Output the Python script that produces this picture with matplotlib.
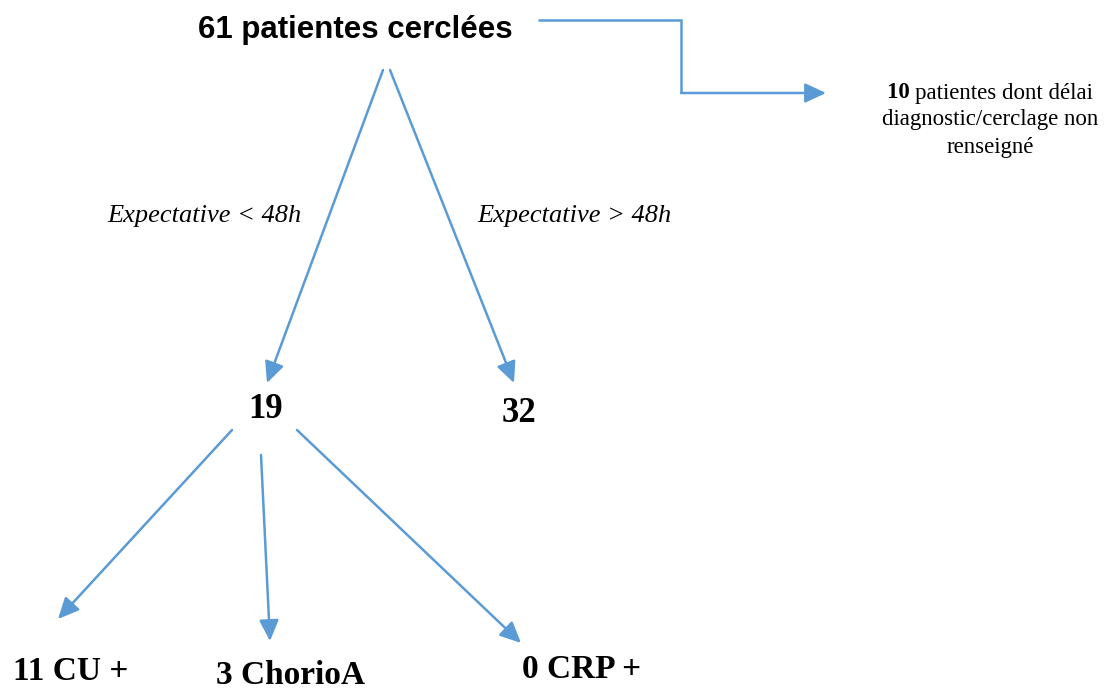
import matplotlib
matplotlib.use("Agg")
import matplotlib.pyplot as plt

# flowchart content
total = 61
total_label = "patientes cerclées"
missing = 10
missing_label = ["patientes dont délai", "diagnostic/cerclage non", "renseigné"]
branch_labels = ["Expectative < 48h", "Expectative > 48h"]
branch_counts = [19, 32]
outcome_counts = [11, 3, 0]
outcome_labels = ["CU +", "ChorioA", "CRP +"]

blue = "#5B9BD5"
W, H = 1114, 689

fig = plt.figure(figsize=(W / 100, H / 100), dpi=100)
ax = fig.add_axes([0, 0, 1, 1])
ax.set_xlim(0, W)
ax.set_ylim(H, 0)
ax.axis("off")


def arrow(p0, p1):
	ax.annotate("", xy=p1, xytext=p0,
		arrowprops=dict(arrowstyle="-|>,head_length=0.75,head_width=0.35", color=blue,
			lw=1.8, mutation_scale=17, shrinkA=0, shrinkB=0))


# top box
ax.text(355, 30, "{0} {1}".format(total, total_label), ha="center", va="center",
	fontsize=22.5, fontweight="bold", family="Liberation Sans")

# elbow to the side note
ax.plot([538, 681, 681], [20, 20, 93], color=blue, lw=1.8, solid_capstyle="butt",
	solid_joinstyle="miter")
arrow((681, 93), (826, 93))
ax.text(990, 120, missing_label[1], ha="center", va="center", fontsize=16.5,
	family="Liberation Serif")
ax.text(990, 147, missing_label[2], ha="center", va="center", fontsize=16.5,
	family="Liberation Serif")
# first line: bold count + regular text, centred together
t1 = ax.text(0, 93, str(missing) + " ", ha="left", va="center", fontsize=16.5,
	fontweight="bold", family="Liberation Serif")
t2 = ax.text(0, 93, missing_label[0], ha="left", va="center", fontsize=16.5,
	family="Liberation Serif")
fig.canvas.draw()
r = fig.canvas.get_renderer()
inv = ax.transData.inverted()
b1 = t1.get_window_extent(r)
b2 = t2.get_window_extent(r)
w1 = inv.transform((b1.x1, 0))[0] - inv.transform((b1.x0, 0))[0]
w2 = inv.transform((b2.x1, 0))[0] - inv.transform((b2.x0, 0))[0]
x0 = 990 - (w1 + w2) / 2
t1.set_x(x0)
t2.set_x(x0 + w1)

# split into the two branches
arrow((383, 70), (267, 383))
arrow((390, 70), (514, 383))
ax.text(204, 216, branch_labels[0], ha="center", va="center", fontsize=19,
	style="italic", family="Liberation Serif")
ax.text(574, 216, branch_labels[1], ha="center", va="center", fontsize=19,
	style="italic", family="Liberation Serif")
ax.text(266, 410, str(branch_counts[0]), ha="center", va="center", fontsize=25,
	fontweight="bold", family="Liberation Serif")
ax.text(519, 413, str(branch_counts[1]), ha="center", va="center", fontsize=25,
	fontweight="bold", family="Liberation Serif")

# outcomes of the < 48h branch
arrow((232, 430), (58, 619))
arrow((261, 455), (270, 641))
arrow((297, 430), (521, 643))
xs = [71, 291, 582]
ys = [672, 675, 669]
for x, y, n, lab in zip(xs, ys, outcome_counts, outcome_labels):
	ax.text(x, y, "{0} {1}".format(n, lab), ha="center", va="center", fontsize=24,
		fontweight="bold", family="Liberation Serif")

fig.savefig("out.png", dpi=100, facecolor="white")
